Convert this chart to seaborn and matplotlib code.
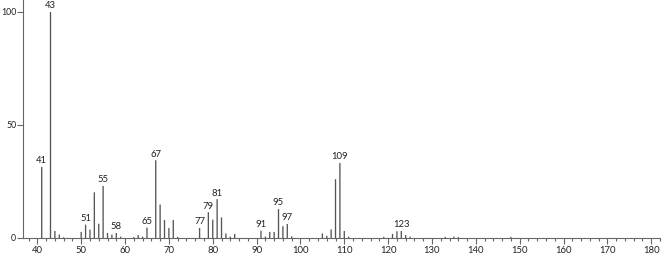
import matplotlib
matplotlib.use("Agg")
import matplotlib.pyplot as plt
from matplotlib.ticker import MultipleLocator
import seaborn as sns
import pandas as pd

mz = [41, 43, 44, 45, 46, 50, 51, 52, 53, 54, 55, 56, 57, 58, 59, 62, 63, 64, 65,
      67, 68, 69, 70, 71, 72, 77, 79, 80, 81, 82, 83, 84, 85, 91, 92, 93, 94, 95,
      96, 97, 98, 105, 106, 107, 108, 109, 110, 111, 119, 121, 122, 123, 124, 125,
      133, 135, 136, 148]
intensity = [31.4, 100, 3.1, 1.5, 0.3, 2.7, 5.9, 3.7, 20.2, 6.3, 23.0, 2.2, 1.5, 2.2, 0.6,
             0.4, 1.3, 0.6, 4.6,
             34.4, 14.8, 8.0, 4.4, 8.0, 0.5, 4.4, 11.4, 8.1, 17.2, 9.1, 2.0, 0.6, 1.8,
             3.2, 0.6, 2.7, 2.7, 12.8,
             5.2, 6.2, 0.7, 2.0, 1.0, 3.8, 26.0, 33.2, 3.1, 0.6, 0.5, 1.8, 3.0, 3.1, 1.3,
             0.6, 0.5, 0.6, 0.4, 0.5]
peak_labels = [41, 43, 51, 55, 58, 65, 67, 77, 79, 81, 91, 95, 97, 109, 123]

x_ticks = list(range(40, 181, 10))
y_ticks = [0, 50, 100]

df = pd.DataFrame({"mz": mz, "intensity": intensity})

sns.set_style("ticks")
plt.rcParams["font.family"] = ["Lato", "DejaVu Sans"]

fig = plt.figure(figsize=(6.66, 2.54), dpi=100)
ax = fig.add_axes([0.035, 0.063, 0.956, 0.937])

bar_color = "#555555"
sns.barplot(data=df, x="mz", y="intensity", native_scale=True,
            width=0.3, color=bar_color, linewidth=0,
            ax=ax, errorbar=None)
for p in ax.patches:
    p.set_snap(False)
    p.set_antialiased(True)

for m in peak_labels:
    v = df.loc[df["mz"] == m, "intensity"].iloc[0]
    ax.text(m, v + 0.7, str(m), ha="center", va="bottom", fontsize=6.8, color="#222222")

ax.set_xlim(36.8, 182)
ax.set_ylim(0, 105.3)
ax.set_xticks(x_ticks)
ax.set_xticklabels([str(t) for t in x_ticks])
ax.xaxis.set_minor_locator(MultipleLocator(2))
ax.set_yticks(y_ticks)
ax.set_yticklabels([str(t) for t in y_ticks])
ax.tick_params(axis="x", which="major", labelsize=6.8, length=4, width=0.8,
               color="#666666", labelcolor="#222222", pad=1.5)
ax.tick_params(axis="y", which="major", labelsize=6.3, length=4, width=0.8,
               color="#666666", labelcolor="#222222", pad=1)
ax.tick_params(axis="x", which="minor", length=2, width=0.8, color="#666666")
ax.set_xlabel("")
ax.set_ylabel("")
for s in ["top", "right"]:
    ax.spines[s].set_visible(False)
for s in ["left", "bottom"]:
    ax.spines[s].set_color("#666666")
    ax.spines[s].set_linewidth(0.8)

fig.savefig("out.png", dpi=100)
